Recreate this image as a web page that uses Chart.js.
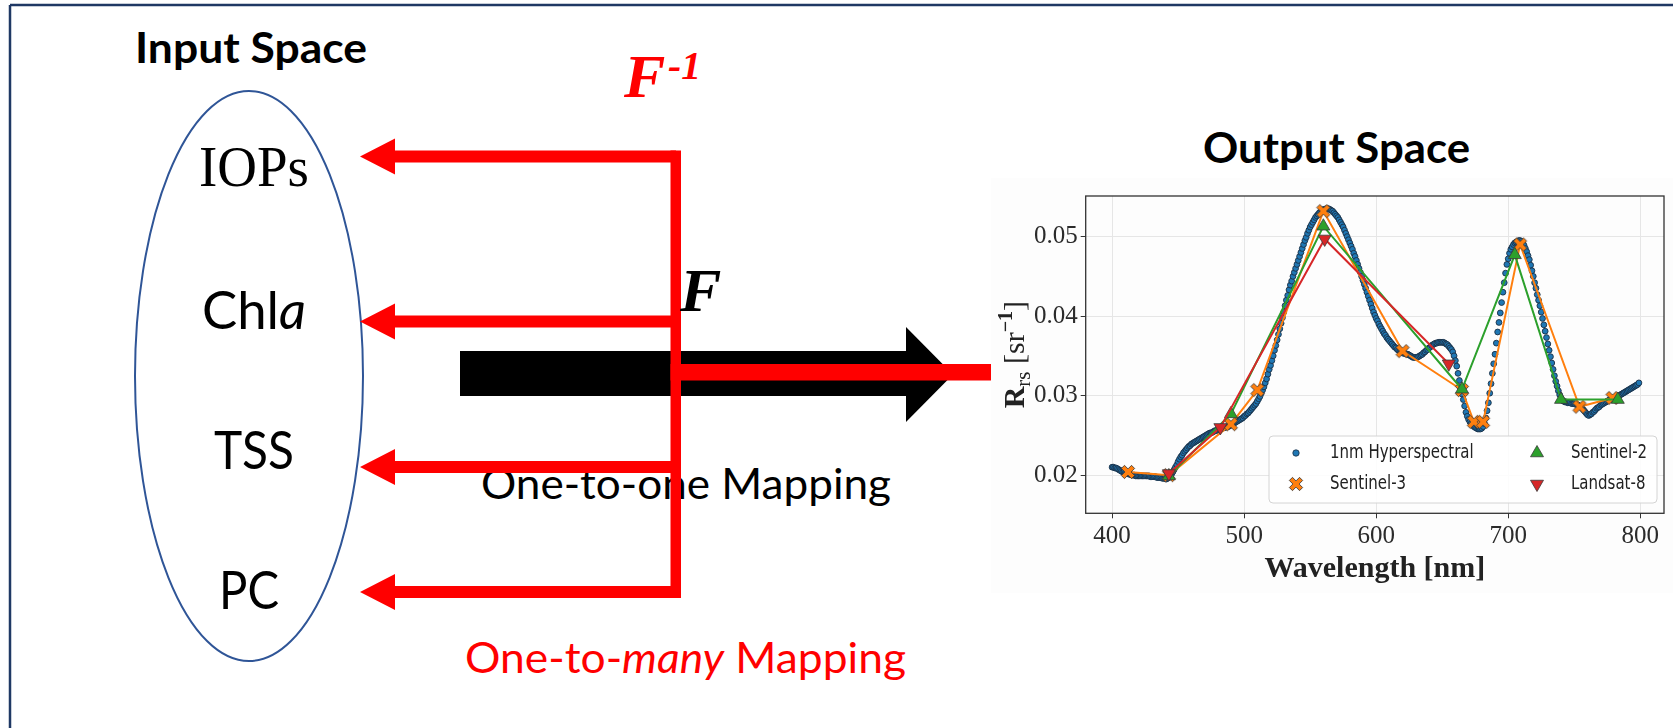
<!DOCTYPE html>
<html lang="en">
<head>
    <meta charset="UTF-8" />
    <title>Input Space / Output Space</title>
    <script src="https://cdn.jsdelivr.net/npm/chart.js"></script>
    <style>
        html, body {
            margin: 0;
            padding: 0;
            background: #fff;
        }
        body {
            width: 1673px;
            height: 728px;
            position: relative;
            overflow: hidden;
        }
        #diagrama {
            position: absolute;
            left: 0;
            top: 0;
        }
        #panel {
            position: absolute;
            left: 991px;
            top: 178px;
            width: 682px;
            height: 415px;
        }
    </style>
</head>
<body>
    <svg id="diagrama" width="1673" height="728">
        <line x1="10" y1="5" x2="1673" y2="5" stroke="#1f3864" stroke-width="2.5"/>
        <line x1="10" y1="5" x2="10" y2="728" stroke="#1f3864" stroke-width="2.5"/>
        <ellipse cx="249" cy="376" rx="114" ry="285" fill="none" stroke="#2f5597" stroke-width="2"/>

        <text x="135" y="63" font-family="Lato" font-weight="bold" font-size="42" textLength="232" lengthAdjust="spacingAndGlyphs">Input Space</text>
        <text x="199" y="186" font-family="Liberation Serif" font-size="56" textLength="110" lengthAdjust="spacingAndGlyphs">IOPs</text>
        <text x="202" y="329" font-family="Lato" font-size="52" textLength="104" lengthAdjust="spacingAndGlyphs">Chl<tspan font-style="italic">a</tspan></text>
        <text x="214" y="469" font-family="Lato" font-size="52" textLength="80" lengthAdjust="spacingAndGlyphs">TSS</text>
        <text x="219" y="609" font-family="Lato" font-size="52" textLength="60" lengthAdjust="spacingAndGlyphs">PC</text>

        <!-- flecha negra F -->
        <polygon points="460,351 906,351 906,327 953,374.5 906,422 906,396 460,396" fill="#000"/>
        <text x="481" y="499" font-family="Lato" font-size="42" textLength="410" lengthAdjust="spacingAndGlyphs">One-to-one Mapping</text>

        <!-- flechas rojas F^-1 -->
        <g fill="#ff0000">
            <polygon points="360,156.5 395,138.5 395,150.5 676,150.5 676,162.5 395,162.5 395,174.5"/>
            <polygon points="360,321.5 395,303.5 395,315.5 676,315.5 676,327.5 395,327.5 395,339.5"/>
            <polygon points="360,467 395,449 395,461 676,461 676,473 395,473 395,485"/>
            <polygon points="360,592 395,574 395,586 676,586 676,598 395,598 395,610"/>
            <rect x="670.5" y="150.5" width="10.5" height="447.5"/>
            <rect x="670.5" y="364" width="321" height="16.5"/>
        </g>

        <text x="680" y="311" font-family="Liberation Serif" font-weight="bold" font-style="italic" font-size="62">F</text>
        <text x="624" y="97" fill="#ff0000" font-family="Liberation Serif" font-weight="bold" font-style="italic" font-size="62">F</text>
        <text x="668" y="79" fill="#ff0000" font-family="Liberation Serif" font-weight="bold" font-style="italic" font-size="40" textLength="33" lengthAdjust="spacingAndGlyphs">-1</text>
        <text x="465" y="673" fill="#ff0000" font-family="Lato" font-size="42" textLength="441" lengthAdjust="spacingAndGlyphs">One-to-<tspan font-style="italic">many</tspan> Mapping</text>

        <text x="1203" y="163" font-family="Lato" font-weight="bold" font-size="42" textLength="267" lengthAdjust="spacingAndGlyphs">Output Space</text>
    </svg>

    <div id="panel"><canvas id="grafico"></canvas></div>

    <script>
        // espectro hiperespectral de 1 nm, 400-799 nm (una fila por cada 10 nm)
        const inicioHiper = 400;
        const rrsHiper = [
            0.0210, 0.0210, 0.0209, 0.0209, 0.0208, 0.0207, 0.0206, 0.0205, 0.0204, 0.0204,
            0.0203, 0.0203, 0.0202, 0.0201, 0.0201, 0.0200, 0.0200, 0.0200, 0.0199, 0.0199,
            0.0199, 0.0199, 0.0199, 0.0199, 0.0199, 0.0199, 0.0199, 0.0199, 0.0199, 0.0198,
            0.0198, 0.0198, 0.0198, 0.0198, 0.0197, 0.0197, 0.0197, 0.0197, 0.0196, 0.0196,
            0.0196, 0.0195, 0.0196, 0.0197, 0.0198, 0.0201, 0.0204, 0.0207, 0.0210, 0.0213,
            0.0217, 0.0220, 0.0223, 0.0225, 0.0228, 0.0230, 0.0232, 0.0234, 0.0236, 0.0237,
            0.0239, 0.0240, 0.0241, 0.0242, 0.0243, 0.0244, 0.0245, 0.0246, 0.0247, 0.0248,
            0.0249, 0.0250, 0.0251, 0.0252, 0.0253, 0.0253, 0.0254, 0.0255, 0.0256, 0.0256,
            0.0257, 0.0258, 0.0258, 0.0259, 0.0259, 0.0260, 0.0260, 0.0261, 0.0261, 0.0262,
            0.0263, 0.0264, 0.0265, 0.0266, 0.0267, 0.0268, 0.0269, 0.0270, 0.0271, 0.0272,
            0.0274, 0.0275, 0.0277, 0.0278, 0.0280, 0.0282, 0.0284, 0.0286, 0.0288, 0.0290,
            0.0293, 0.0296, 0.0299, 0.0303, 0.0307, 0.0311, 0.0316, 0.0321, 0.0327, 0.0333,
            0.0338, 0.0344, 0.0350, 0.0357, 0.0363, 0.0370, 0.0377, 0.0384, 0.0391, 0.0398,
            0.0405, 0.0413, 0.0420, 0.0426, 0.0433, 0.0439, 0.0444, 0.0450, 0.0455, 0.0460,
            0.0465, 0.0470, 0.0475, 0.0480, 0.0485, 0.0490, 0.0495, 0.0499, 0.0504, 0.0508,
            0.0512, 0.0515, 0.0518, 0.0521, 0.0524, 0.0526, 0.0528, 0.0530, 0.0531, 0.0533,
            0.0534, 0.0534, 0.0535, 0.0535, 0.0535, 0.0534, 0.0533, 0.0532, 0.0530, 0.0528,
            0.0526, 0.0524, 0.0521, 0.0518, 0.0515, 0.0512, 0.0508, 0.0504, 0.0500, 0.0496,
            0.0492, 0.0488, 0.0484, 0.0479, 0.0475, 0.0470, 0.0465, 0.0460, 0.0455, 0.0450,
            0.0445, 0.0440, 0.0435, 0.0430, 0.0425, 0.0420, 0.0415, 0.0410, 0.0405, 0.0401,
            0.0397, 0.0394, 0.0390, 0.0387, 0.0384, 0.0381, 0.0378, 0.0376, 0.0373, 0.0371,
            0.0369, 0.0367, 0.0365, 0.0363, 0.0361, 0.0360, 0.0358, 0.0357, 0.0356, 0.0355,
            0.0354, 0.0353, 0.0353, 0.0352, 0.0352, 0.0351, 0.0350, 0.0349, 0.0348, 0.0348,
            0.0348, 0.0348, 0.0349, 0.0350, 0.0351, 0.0352, 0.0354, 0.0355, 0.0357, 0.0358,
            0.0360, 0.0361, 0.0363, 0.0364, 0.0365, 0.0366, 0.0366, 0.0367, 0.0367, 0.0367,
            0.0367, 0.0367, 0.0366, 0.0365, 0.0364, 0.0362, 0.0360, 0.0358, 0.0355, 0.0350,
            0.0344, 0.0337, 0.0328, 0.0319, 0.0310, 0.0302, 0.0295, 0.0287, 0.0279, 0.0274,
            0.0270, 0.0267, 0.0265, 0.0263, 0.0261, 0.0260, 0.0259, 0.0258, 0.0258, 0.0258,
            0.0259, 0.0261, 0.0265, 0.0272, 0.0281, 0.0291, 0.0303, 0.0315, 0.0328, 0.0340,
            0.0352, 0.0366, 0.0380, 0.0392, 0.0404, 0.0417, 0.0430, 0.0442, 0.0454, 0.0465,
            0.0472, 0.0479, 0.0484, 0.0487, 0.0490, 0.0492, 0.0493, 0.0494, 0.0495, 0.0495,
            0.0494, 0.0492, 0.0489, 0.0485, 0.0481, 0.0476, 0.0471, 0.0464, 0.0457, 0.0450,
            0.0442, 0.0435, 0.0427, 0.0420, 0.0413, 0.0405, 0.0397, 0.0389, 0.0381, 0.0373,
            0.0365, 0.0357, 0.0349, 0.0341, 0.0333, 0.0325, 0.0318, 0.0312, 0.0306, 0.0301,
            0.0297, 0.0294, 0.0293, 0.0292, 0.0292, 0.0291, 0.0291, 0.0291, 0.0290, 0.0290,
            0.0290, 0.0289, 0.0289, 0.0288, 0.0287, 0.0286, 0.0284, 0.0282, 0.0280, 0.0278,
            0.0276, 0.0275, 0.0276, 0.0277, 0.0279, 0.0280, 0.0282, 0.0284, 0.0285, 0.0286,
            0.0288, 0.0289, 0.0290, 0.0291, 0.0292, 0.0293, 0.0294, 0.0295, 0.0295, 0.0296,
            0.0297, 0.0297, 0.0298, 0.0299, 0.0300, 0.0301, 0.0302, 0.0303, 0.0304, 0.0305,
            0.0306, 0.0307, 0.0308, 0.0309, 0.0310, 0.0311, 0.0312, 0.0313, 0.0314, 0.0316
        ];

        // bandas de los sensores
        const lambdaS3 = [412, 443, 490, 510, 560, 620, 665, 674, 681, 709, 754, 779];
        const rrsS3 = [0.0204, 0.0200, 0.0264, 0.0307, 0.0532, 0.0356, 0.0307, 0.0267, 0.0267, 0.0490, 0.0286, 0.0297];

        const lambdaS2 = [443, 490, 560, 665, 705, 740, 783];
        const rrsS2 = [0.0199, 0.0277, 0.0513, 0.0308, 0.0477, 0.0295, 0.0295];

        const lambdaL8 = [443, 482, 561, 655];
        const rrsL8 = [0.0202, 0.0260, 0.0497, 0.0340];

        const ticksX = [400, 500, 600, 700, 800];
        const ticksY = [0.02, 0.03, 0.04, 0.05];

        const nombres = ['1nm Hyperspectral', 'Sentinel-3', 'Sentinel-2', 'Landsat-8'];
        const colores = ['#1f77b4', '#ff7f0e', '#2ca02c', '#d62728'];

        function crearMarcaX(color) {
            const c = document.createElement('canvas');
            c.width = 18;
            c.height = 18;
            const g = c.getContext('2d');
            g.translate(9, 9);
            g.rotate(Math.PI / 4);
            const a = 2.2, L = 7.2;
            const pts = [[-a,-L],[a,-L],[a,-a],[L,-a],[L,a],[a,a],[a,L],[-a,L],[-a,a],[-L,a],[-L,-a],[-a,-a]];
            g.beginPath();
            pts.forEach((p, i) => i ? g.lineTo(p[0], p[1]) : g.moveTo(p[0], p[1]));
            g.closePath();
            g.fillStyle = color;
            g.fill();
            g.lineWidth = 0.8;
            g.strokeStyle = '#3a3a3a';
            g.stroke();
            return c;
        }
        const marcaX = crearMarcaX(colores[1]);

        const puntos = (xs, ys) => xs.map((x, i) => ({ x: x, y: ys[i] }));
        const datosHiper = rrsHiper.map((v, i) => ({ x: inicioHiper + i, y: v }));

        // estilos de marcador para la leyenda
        const marcasLeyenda = [
            { pointStyle: 'circle', radius: 3.2, rotation: 0 },
            { pointStyle: marcaX, radius: 7, rotation: 0 },
            { pointStyle: 'triangle', radius: 7.5, rotation: 0 },
            { pointStyle: 'triangle', radius: 7.5, rotation: 180 }
        ];

        function textoEstirado(ctx, t, x, y) {
            ctx.save();
            ctx.translate(x, y);
            ctx.scale(1, 1.25);
            ctx.fillText(t, 0, 0);
            ctx.restore();
        }

        const pluginFigura = {
            id: 'figura',
            beforeDraw(chart) {
                const ctx = chart.ctx;
                ctx.save();
                ctx.fillStyle = '#fdfdfd';
                ctx.fillRect(0, 0, chart.width, chart.height);
                ctx.restore();
            },
            afterDraw(chart) {
                const ctx = chart.ctx;
                const a = chart.chartArea;
                ctx.save();

                // marco de los ejes
                ctx.strokeStyle = '#333';
                ctx.lineWidth = 1.3;
                ctx.strokeRect(a.left, a.top, a.right - a.left, a.bottom - a.top);

                // titulo del eje x
                ctx.fillStyle = '#222';
                ctx.font = 'bold 30px "Liberation Serif"';
                ctx.textAlign = 'center';
                ctx.textBaseline = 'alphabetic';
                ctx.fillText('Wavelength [nm]', (a.left + a.right) / 2, 399);

                // titulo del eje y con subindice y exponente
                const piezas = [
                    { t: 'R', f: 'bold 30px "Liberation Serif"', dy: 0 },
                    { t: 'rs', f: '21px "Liberation Serif"', dy: 6 },
                    { t: ' [sr', f: '30px "Liberation Serif"', dy: 0 },
                    { t: '\u22121', f: 'bold 20px "Liberation Serif"', dy: -12 },
                    { t: ']', f: '30px "Liberation Serif"', dy: 0 }
                ];
                let total = 0;
                piezas.forEach(p => { ctx.font = p.f; p.w = ctx.measureText(p.t).width; total += p.w; });
                ctx.translate(33, (a.top + a.bottom) / 2);
                ctx.rotate(-Math.PI / 2);
                ctx.textAlign = 'left';
                let px = -total / 2;
                piezas.forEach(p => { ctx.font = p.f; ctx.fillText(p.t, px, p.dy); px += p.w; });
                ctx.restore();

                // leyenda en dos columnas
                ctx.save();
                const lx = 278, ly = 258, lw = 388, lh = 67;
                ctx.beginPath();
                ctx.roundRect(lx, ly, lw, lh, 4);
                ctx.fillStyle = 'rgba(255,255,255,0.85)';
                ctx.fill();
                ctx.strokeStyle = '#d4d4d4';
                ctx.lineWidth = 1;
                ctx.stroke();

                const posiciones = [[lx + 27, ly + 17], [lx + 27, ly + 48], [lx + 268, ly + 17], [lx + 268, ly + 48]];
                ctx.font = '15px "DejaVu Sans"';
                ctx.textBaseline = 'middle';
                nombres.forEach((nombre, i) => {
                    const [mx, my] = posiciones[i];
                    ctx.fillStyle = colores[i];
                    ctx.strokeStyle = i === 0 ? '#1b2f44' : '#3a3a3a';
                    ctx.lineWidth = 0.8;
                    Chart.helpers.drawPoint(ctx, Object.assign({ borderWidth: 0.8 }, marcasLeyenda[i]), mx, my);
                    ctx.fillStyle = '#222';
                    ctx.textAlign = 'left';
                    textoEstirado(ctx, nombre, mx + 34, my);
                });
                ctx.restore();
            }
        };

        const comunEscala = {
            border: { display: false },
            grid: { color: '#e6e6e6', tickColor: '#333', tickLength: 5, lineWidth: 1 },
            ticks: { font: { family: 'Liberation Serif', size: 25 }, color: '#2b2b2b', padding: 3, maxRotation: 0 }
        };

        new Chart(document.getElementById('grafico'), {
            type: 'scatter',
            data: {
                datasets: [
                    {
                        label: nombres[0],
                        data: datosHiper,
                        showLine: false,
                        pointRadius: 2.9,
                        pointBackgroundColor: colores[0],
                        pointBorderColor: '#1b2f44',
                        pointBorderWidth: 0.9,
                        order: 4
                    },
                    {
                        label: nombres[1],
                        data: puntos(lambdaS3, rrsS3),
                        showLine: true,
                        borderColor: colores[1],
                        borderWidth: 2,
                        pointStyle: marcaX,
                        pointRadius: 7,
                        order: 3
                    },
                    {
                        label: nombres[2],
                        data: puntos(lambdaS2, rrsS2),
                        showLine: true,
                        borderColor: colores[2],
                        borderWidth: 2,
                        pointStyle: 'triangle',
                        pointRadius: 7.5,
                        pointBackgroundColor: colores[2],
                        pointBorderColor: '#3a3a3a',
                        pointBorderWidth: 0.8,
                        order: 2
                    },
                    {
                        label: nombres[3],
                        data: puntos(lambdaL8, rrsL8),
                        showLine: true,
                        borderColor: colores[3],
                        borderWidth: 2,
                        pointStyle: 'triangle',
                        pointRotation: 180,
                        pointRadius: 7.5,
                        pointBackgroundColor: colores[3],
                        pointBorderColor: '#3a3a3a',
                        pointBorderWidth: 0.8,
                        order: 1
                    }
                ]
            },
            options: {
                responsive: true,
                maintainAspectRatio: false,
                animation: false,
                events: [],
                layout: { padding: { top: 10, right: 7, left: 0, bottom: 0 } },
                plugins: {
                    legend: { display: false },
                    tooltip: { enabled: false }
                },
                scales: {
                    x: Object.assign({}, comunEscala, {
                        type: 'linear',
                        min: 380,
                        max: 818,
                        afterBuildTicks: s => { s.ticks = ticksX.map(v => ({ value: v })); },
                        afterFit: s => { s.height = 79.7; }
                    }),
                    y: Object.assign({}, comunEscala, {
                        type: 'linear',
                        min: 0.0152,
                        max: 0.0551,
                        afterBuildTicks: s => { s.ticks = ticksY.map(v => ({ value: v })); },
                        afterFit: s => { s.width = 94.7; },
                        ticks: Object.assign({}, comunEscala.ticks, { callback: v => v.toFixed(2) })
                    })
                }
            },
            plugins: [pluginFigura]
        });
    </script>
</body>
</html>
